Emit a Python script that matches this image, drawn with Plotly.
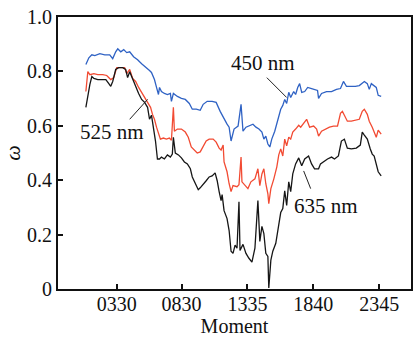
import plotly.graph_objects as go

# Time of day in hours (x) and omega values (y) for each wavelength
t_450 = [1.12, 1.35, 1.58, 1.81, 2.20, 2.58, 2.96, 3.19, 3.42, 3.58, 3.81, 4.04, 4.27, 4.50, 4.80,
         5.11, 5.42, 5.80, 6.03, 6.18, 6.41, 6.57, 6.72, 6.80, 6.95, 7.18, 7.41, 7.64, 7.72, 7.87,
         8.18, 8.49, 8.79, 9.10, 9.33, 9.64, 9.94, 10.17, 10.48, 10.86, 11.17, 11.48, 11.78, 12.01,
         12.17, 12.32, 12.55, 12.86, 13.09, 13.24, 13.47, 13.70, 14.01, 14.24, 14.47, 14.70, 14.85,
         15.00, 15.16, 15.31, 15.46, 15.69, 15.92, 16.15, 16.31, 16.46, 16.61, 16.77, 16.92, 17.15,
         17.30, 17.46, 17.61, 17.77, 18.00, 18.23, 18.53, 18.84, 18.99, 19.07, 19.30, 19.68, 20.07,
         20.45, 20.76, 20.99, 21.22, 21.52, 21.91, 22.21, 22.44, 22.60, 22.83, 22.98, 23.14, 23.36,
         23.52, 23.67, 23.90]
w_450 = [0.825, 0.850, 0.861, 0.858, 0.865, 0.861, 0.861, 0.847, 0.872, 0.883, 0.872, 0.880, 0.869,
         0.872, 0.854, 0.843, 0.828, 0.814, 0.803, 0.796, 0.770, 0.741, 0.715, 0.741, 0.726, 0.719,
         0.715, 0.719, 0.690, 0.719, 0.708, 0.701, 0.697, 0.682, 0.661, 0.661, 0.657, 0.679, 0.690,
         0.690, 0.686, 0.653, 0.624, 0.606, 0.595, 0.544, 0.588, 0.599, 0.679, 0.580, 0.595, 0.599,
         0.606, 0.595, 0.588, 0.577, 0.551, 0.562, 0.533, 0.522, 0.551, 0.580, 0.617, 0.661, 0.675,
         0.697, 0.682, 0.723, 0.704, 0.726, 0.715, 0.741, 0.755, 0.723, 0.726, 0.741, 0.737, 0.734,
         0.730, 0.701, 0.719, 0.726, 0.726, 0.734, 0.737, 0.763, 0.745, 0.745, 0.745, 0.748, 0.759,
         0.763, 0.755, 0.734, 0.755, 0.748, 0.741, 0.712, 0.708]

t_525 = [1.12, 1.27, 1.43, 1.74, 2.04, 2.43, 2.73, 3.04, 3.27, 3.50, 3.81, 4.11, 4.27, 4.50, 4.73,
         4.96, 5.19, 5.42, 5.65, 5.88, 6.11, 6.26, 6.41, 6.57, 6.72, 6.87, 7.10, 7.33, 7.56, 7.72,
         7.87, 7.95, 8.18, 8.49, 8.79, 9.02, 9.25, 9.48, 9.71, 9.94, 10.17, 10.40, 10.63, 10.94,
         11.17, 11.40, 11.55, 11.71, 11.78, 12.01, 12.17, 12.32, 12.47, 12.78, 12.93, 13.09, 13.16,
         13.39, 13.62, 13.85, 14.16, 14.39, 14.54, 14.70, 14.85, 15.00, 15.16, 15.23, 15.39, 15.62,
         15.85, 16.00, 16.15, 16.31, 16.46, 16.61, 16.77, 16.92, 17.08, 17.30, 17.54, 17.69, 17.92,
         18.15, 18.38, 18.69, 18.92, 19.07, 19.30, 19.61, 19.91, 20.22, 20.53, 20.76, 20.91, 21.06,
         21.29, 21.60, 21.91, 22.21, 22.44, 22.60, 22.83, 22.98, 23.21, 23.36, 23.52, 23.67, 23.82,
         23.90]
w_525 = [0.726, 0.799, 0.788, 0.792, 0.788, 0.788, 0.785, 0.770, 0.777, 0.814, 0.814, 0.814, 0.792,
         0.807, 0.774, 0.763, 0.741, 0.723, 0.704, 0.690, 0.668, 0.642, 0.624, 0.595, 0.569, 0.551,
         0.555, 0.551, 0.555, 0.547, 0.668, 0.580, 0.588, 0.588, 0.577, 0.558, 0.522, 0.511, 0.500,
         0.504, 0.526, 0.544, 0.551, 0.551, 0.540, 0.518, 0.511, 0.529, 0.467, 0.431, 0.387, 0.358,
         0.380, 0.376, 0.383, 0.485, 0.394, 0.383, 0.369, 0.394, 0.405, 0.442, 0.380, 0.423, 0.442,
         0.387, 0.350, 0.314, 0.369, 0.405, 0.449, 0.493, 0.515, 0.489, 0.551, 0.526, 0.558, 0.551,
         0.577, 0.588, 0.602, 0.595, 0.609, 0.624, 0.595, 0.599, 0.588, 0.562, 0.580, 0.588, 0.595,
         0.599, 0.599, 0.646, 0.653, 0.639, 0.617, 0.617, 0.620, 0.624, 0.653, 0.661, 0.642, 0.617,
         0.595, 0.580, 0.558, 0.584, 0.573, 0.569]

t_635 = [1.12, 1.27, 1.43, 1.58, 1.74, 2.04, 2.35, 2.66, 2.89, 3.04, 3.19, 3.42, 3.65, 3.96, 4.19,
         4.34, 4.50, 4.73, 4.96, 5.19, 5.42, 5.65, 5.88, 6.03, 6.18, 6.34, 6.49, 6.64, 6.80, 6.95,
         7.18, 7.41, 7.64, 7.79, 7.87, 8.02, 8.26, 8.49, 8.72, 8.95, 9.18, 9.33, 9.56, 9.79, 9.94,
         10.17, 10.40, 10.63, 10.86, 11.09, 11.25, 11.40, 11.55, 11.63, 11.78, 12.01, 12.17, 12.32,
         12.47, 12.63, 12.78, 12.93, 13.01, 13.24, 13.47, 13.70, 13.93, 14.16, 14.39, 14.54, 14.70,
         14.85, 15.00, 15.16, 15.23, 15.39, 15.54, 15.77, 16.00, 16.15, 16.31, 16.46, 16.61, 16.77,
         16.92, 17.08, 17.30, 17.54, 17.77, 18.00, 18.30, 18.53, 18.76, 19.07, 19.22, 19.53, 19.76,
         20.07, 20.30, 20.60, 20.83, 21.06, 21.29, 21.60, 21.98, 22.29, 22.44, 22.60, 22.83, 23.06,
         23.21, 23.36, 23.52, 23.67, 23.90]
w_635 = [0.668, 0.715, 0.752, 0.781, 0.774, 0.770, 0.770, 0.770, 0.755, 0.745, 0.763, 0.807, 0.814,
         0.814, 0.807, 0.777, 0.799, 0.770, 0.748, 0.719, 0.697, 0.686, 0.668, 0.624, 0.639, 0.595,
         0.544, 0.478, 0.478, 0.485, 0.478, 0.493, 0.485, 0.496, 0.558, 0.500, 0.493, 0.482, 0.467,
         0.460, 0.442, 0.412, 0.387, 0.365, 0.372, 0.387, 0.398, 0.412, 0.416, 0.427, 0.398, 0.358,
         0.325, 0.347, 0.288, 0.259, 0.215, 0.139, 0.131, 0.161, 0.150, 0.321, 0.142, 0.164, 0.131,
         0.113, 0.099, 0.150, 0.325, 0.175, 0.230, 0.204, 0.131, 0.120, 0.004, 0.106, 0.139, 0.168,
         0.230, 0.281, 0.296, 0.361, 0.307, 0.394, 0.358, 0.423, 0.460, 0.482, 0.453, 0.478, 0.489,
         0.460, 0.442, 0.442, 0.460, 0.471, 0.478, 0.485, 0.478, 0.489, 0.544, 0.551, 0.518, 0.515,
         0.518, 0.529, 0.577, 0.566, 0.551, 0.515, 0.496, 0.489, 0.456, 0.431, 0.416]

# Axis ticks
x_tick_vals = [3.5, 8.5, 13.583, 18.667, 23.75]
x_tick_text = ["0330", "0830", "1335", "1840", "2345"]
y_tick_vals = [0, 0.2, 0.4, 0.6, 0.8, 1.0]
y_tick_text = ["0", "0.2", "0.4", "0.6", "0.8", "1.0"]

# Series labels: text position and leader line (from, to) in data coordinates
labels = [
    ("450 nm", (14.77, 0.832), (15.08, 0.777), (16.61, 0.704)),
    ("525 nm", (3.12, 0.577), (4.50, 0.624), (5.88, 0.697)),
    ("635 nm", (19.68, 0.307), (18.46, 0.369), (17.92, 0.434)),
]

FONT = "Liberation Serif, Times New Roman, Times, serif"

fig = go.Figure()
series = [
    (t_450, w_450, "#2f62c4", "450 nm"),
    (t_525, w_525, "#f24b33", "525 nm"),
    (t_635, w_635, "#161616", "635 nm"),
]
for t, w, color, name in series:
    fig.add_trace(go.Scatter(x=t, y=w, mode="lines", name=name,
                             line=dict(color=color, width=1.3)))

for text, (tx, ty), (x0, y0), (x1, y1) in labels:
    fig.add_shape(type="line", x0=x0, y0=y0, x1=x1, y1=y1, xref="x", yref="y",
                  line=dict(color="#222", width=1))
    fig.add_annotation(x=tx, y=ty, text=text, showarrow=False, xref="x", yref="y",
                       font=dict(family=FONT, size=21, color="#111"))

axis_common = dict(
    showline=True, linecolor="#111", linewidth=2, mirror=True,
    ticks="inside", ticklen=5, tickwidth=1.5, tickcolor="#111",
    showgrid=False, zeroline=False,
    tickfont=dict(family=FONT, size=20, color="#111"),
)

fig.update_layout(
    width=418, height=339,
    margin=dict(l=58, r=5, t=17, b=48),
    paper_bgcolor="white", plot_bgcolor="white",
    font=dict(family=FONT),
    showlegend=False,
    xaxis=dict(range=[-1.03, 26.2], tickmode="array", tickvals=x_tick_vals,
               ticktext=x_tick_text, ticklabelstandoff=-4,
               title=dict(text="Moment", font=dict(family=FONT, size=20, color="#111"),
                          standoff=5),
               **axis_common),
    yaxis=dict(range=[0, 1.0], tickmode="array", tickvals=y_tick_vals,
               ticktext=y_tick_text,
               title=dict(text="<i>ω</i>", font=dict(family=FONT, size=22, color="#111"),
                          standoff=5),
               **axis_common),
)

fig.write_html("out.html")
